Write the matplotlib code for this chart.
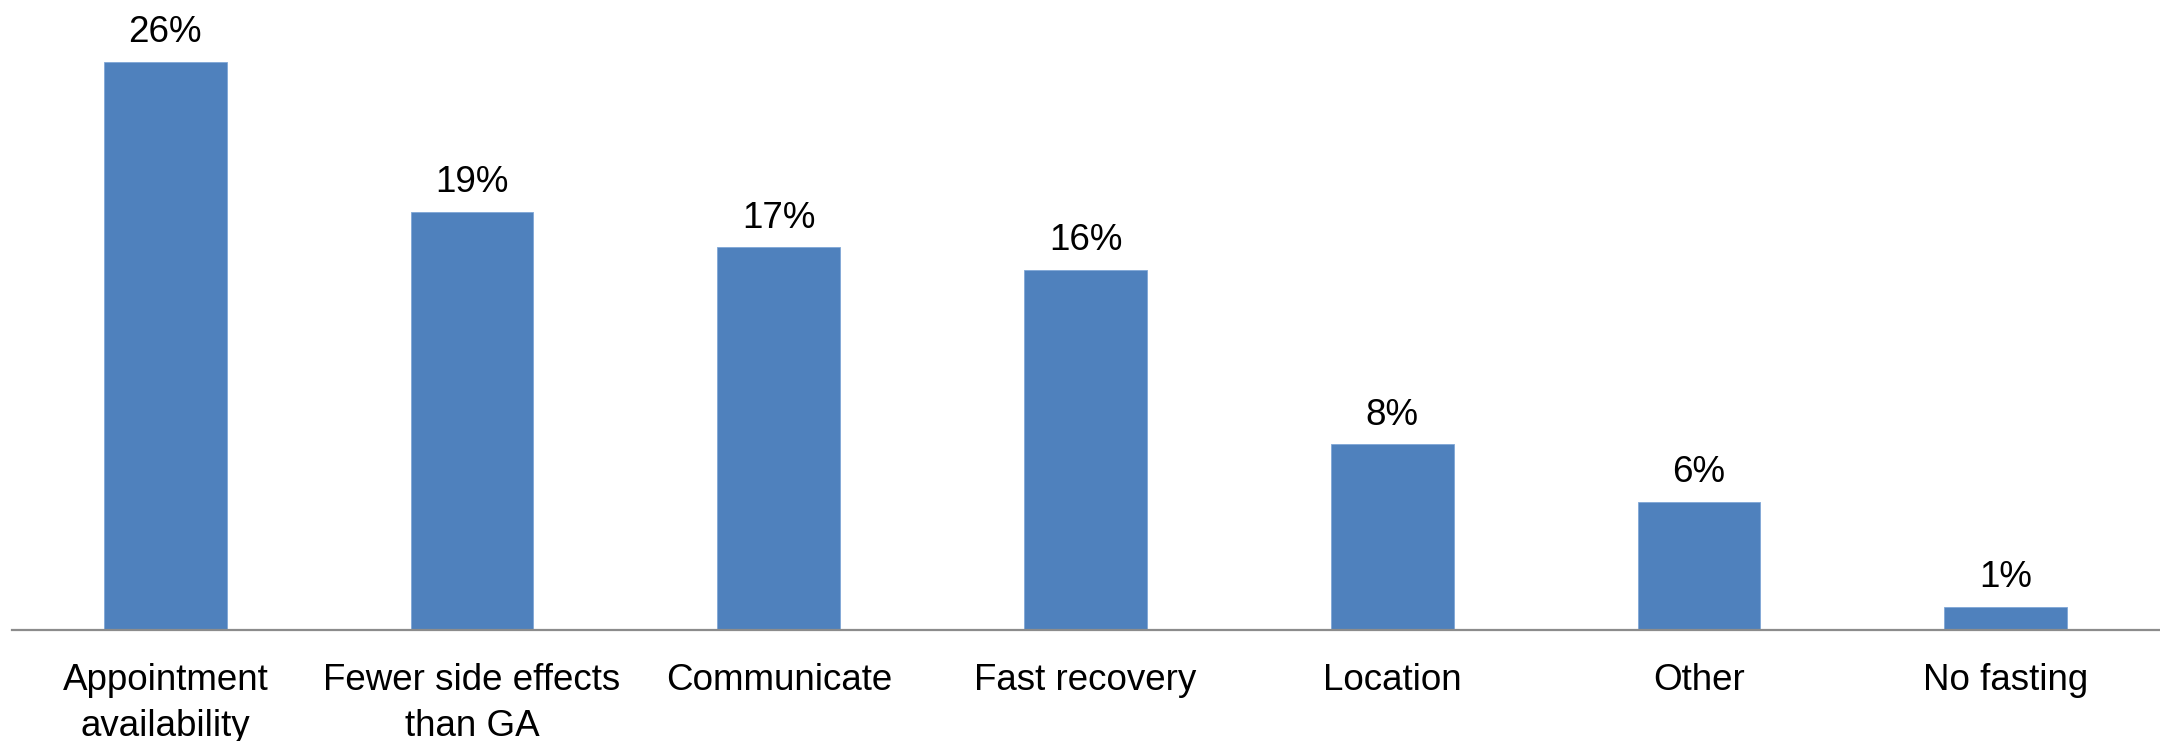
import matplotlib
matplotlib.use("Agg")
import matplotlib.pyplot as plt
import numpy as np

# Powody wyboru (w %)
categories = ["Appointment\navailability", "Fewer side effects\nthan GA", "Communicate",
              "Fast recovery", "Location", "Other", "No fasting"]
values = [25.9, 19.05, 17.44, 16.4, 8.46, 5.83, 1.06]
labels = ["26%", "19%", "17%", "16%", "8%", "6%", "1%"]

plt.rcParams['font.family'] = ['Liberation Sans', 'DejaVu Sans']
fs = 26.5

fig = plt.figure(figsize=(21.6, 7.41), dpi=100)
ax = fig.add_axes([12 / 2160, 111 / 741, 2147 / 2160, 630 / 741])

x = np.arange(len(categories))
ax.bar(x, values, width=0.4, color="#4F81BD", edgecolor="#7FA6D6", linewidth=0.6, zorder=2)

for xi, v, lab in zip(x, values, labels):
    ax.annotate(lab, (xi, v), xytext=(0, 21), textcoords="offset points",
                ha="center", va="center", fontsize=fs, color="black")

ax.set_xlim(-0.5, len(categories) - 0.5)
ax.set_ylim(0, 28.71)
ax.set_xticks(x)
ax.set_xticklabels(categories, fontsize=fs, linespacing=1.4)
ax.tick_params(axis="x", length=0, pad=24)
ax.set_yticks([])

for s in ["top", "right", "left"]:
    ax.spines[s].set_visible(False)
ax.spines["bottom"].set_color("#8C8C8C")
ax.spines["bottom"].set_linewidth(1.6)
ax.patch.set_visible(False)

fig.savefig("out.png", dpi=100)
